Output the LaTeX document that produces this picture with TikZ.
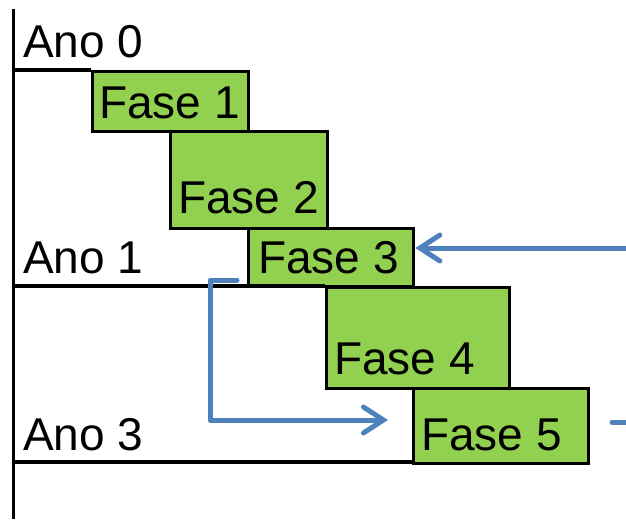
\documentclass[tikz,border=0pt]{standalone}
\usepackage{fontspec}
\setmainfont{Liberation Sans}
\usetikzlibrary{arrows.meta}
\definecolor{fasegreen}{HTML}{92D050}
\definecolor{arrowblue}{HTML}{4F81BD}
\begin{document}
\begin{tikzpicture}[x=1pt,y=-1pt,
  axisline/.style={line width=3.3pt,black},
  phasebox/.style={draw=black,line width=3.3pt,fill=fasegreen,inner sep=0pt,anchor=north west},
  lbl/.style={anchor=base west,inner sep=0pt,font=\fontsize{46}{50}\selectfont},
  flow/.style={draw=arrowblue,line width=5pt,line cap=round,line join=round},
  tip/.style={-{Straight Barb[length=20pt,width=26pt,line cap=round]}}]
\useasboundingbox (0,0) rectangle (626,519);
% axis
\draw[axisline] (13.5,9) -- (13.5,519);
% boxes
\node[phasebox,minimum width=156pt,minimum height=60pt] (b1) at (91,70) {};
\node[phasebox,minimum width=157pt,minimum height=97pt] (b2) at (169,130) {};
\node[phasebox,minimum width=165pt,minimum height=58pt] (b3) at (247,227) {};
\node[phasebox,minimum width=183pt,minimum height=101pt] (b4) at (325,286) {};
\node[phasebox,minimum width=175pt,minimum height=75pt] (b5) at (412,387) {};
% horizontal lines
\coordinate (h0) at (13.5,70);
\coordinate (h1) at (13.5,286);
\coordinate (h3) at (13.5,462);
\draw[axisline] (h0) -- (h0 -| b1.west);
\draw[axisline] (h1) -- (h1 -| b4.west);
\draw[axisline] (h3) -- (h3 -| b5.west);
% labels
\node[lbl] (a0) at (23,58) {Ano 0};
\node[lbl] (a1) at (23,273) {Ano 1};
\node[lbl] (a3) at (23,450) {Ano 3};
\node[lbl] (t1) at (99,118) {Fase 1};
\node[lbl] (t2) at (178,213) {Fase 2};
\node[lbl] (t3) at (258,273) {Fase 3};
\node[lbl] (t4) at (334,374) {Fase 4};
\node[lbl] (t5) at (421,450) {Fase 5};
% connectors
\coordinate (in3) at (630,248);
\draw[flow,tip] (in3) -- (in3 -| b3.east);
\coordinate (e0) at (237,280);
\coordinate (e1) at (210,280);
\coordinate (e2) at (210,420);
\coordinate (e3) at (388,420);
\draw[flow,tip] (e0) -- (e1) -- (e2) -- (e3);
\coordinate (d0) at (612,422);
\coordinate (d1) at (630,422);
\draw[flow] (d0) -- (d1);
\end{tikzpicture}
\end{document}
